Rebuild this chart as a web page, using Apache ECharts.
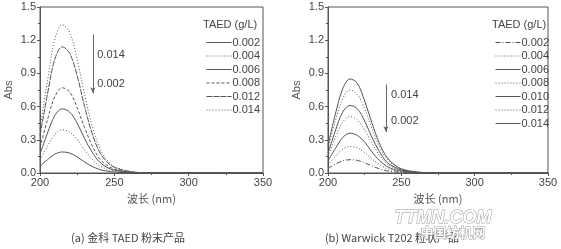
<!DOCTYPE html>
<html><head><meta charset="utf-8">
<script src="https://cdn.jsdelivr.net/npm/echarts@6/dist/echarts.min.js"></script>
<style>html,body{margin:0;padding:0;background:#fff}#c{width:561px;height:249px}</style>
</head><body><div id="c"></div>
<script>
// wavelength sample points (nm)
const wavelength = [200, 205, 210, 215, 220, 225, 230, 235, 240, 245, 250, 260, 270, 350];
// x/y tick values
const xTicks = [200, 250, 300, 350];
const yTicks = [0.0, 0.3, 0.6, 0.9, 1.2, 1.5];

// (a) 金科 TAED 粉末产品
const namesA = ['0.002', '0.004', '0.006', '0.008', '0.012', '0.014'];
const a002 = [0.06, 0.12, 0.17, 0.19, 0.18, 0.146, 0.10, 0.06, 0.032, 0.017, 0.009, 0.002, 0.001, 0];
const a004 = [0.12, 0.24, 0.35, 0.39, 0.37, 0.30, 0.21, 0.125, 0.066, 0.035, 0.018, 0.005, 0.001, 0];
const a006 = [0.17, 0.36, 0.52, 0.58, 0.55, 0.45, 0.31, 0.19, 0.10, 0.052, 0.026, 0.007, 0.002, 0];
const a008 = [0.23, 0.48, 0.69, 0.77, 0.73, 0.59, 0.41, 0.25, 0.13, 0.07, 0.035, 0.009, 0.002, 0];
const a012 = [0.34, 0.71, 1.03, 1.14, 1.08, 0.88, 0.60, 0.36, 0.19, 0.10, 0.05, 0.014, 0.003, 0];
const a014 = [0.40, 0.83, 1.21, 1.34, 1.27, 1.03, 0.71, 0.43, 0.23, 0.12, 0.06, 0.016, 0.004, 0];
const valuesA = [a002, a004, a006, a008, a012, a014];

// (b) Warwick T202 粒状产品
const namesB = ['0.002', '0.004', '0.006', '0.008', '0.010', '0.012', '0.014'];
const b002 = [0.04, 0.08, 0.11, 0.12, 0.114, 0.092, 0.064, 0.038, 0.02, 0.011, 0.005, 0.001, 0, 0];
const b004 = [0.07, 0.15, 0.216, 0.24, 0.228, 0.185, 0.127, 0.077, 0.041, 0.022, 0.011, 0.003, 0.001, 0];
const b006 = [0.11, 0.22, 0.32, 0.36, 0.34, 0.28, 0.19, 0.115, 0.061, 0.032, 0.016, 0.004, 0.001, 0];
const b008 = [0.15, 0.32, 0.46, 0.51, 0.48, 0.39, 0.27, 0.16, 0.087, 0.046, 0.023, 0.006, 0.002, 0];
const b010 = [0.18, 0.38, 0.55, 0.61, 0.58, 0.47, 0.32, 0.195, 0.10, 0.055, 0.027, 0.007, 0.002, 0];
const b012 = [0.22, 0.47, 0.67, 0.75, 0.71, 0.58, 0.40, 0.24, 0.13, 0.068, 0.034, 0.009, 0.002, 0];
const b014 = [0.25, 0.53, 0.76, 0.85, 0.81, 0.65, 0.45, 0.27, 0.145, 0.077, 0.038, 0.01, 0.003, 0];
const valuesB = [b002, b004, b006, b008, b010, b012, b014];

// arrow annotations (data coords)
const arrowA = { x: 235.6, from: 1.25, to: 0.72, hi: 1.07, lo: 0.80, labelX: 238.5 };
const arrowB = { x: 239.5, from: 0.80, to: 0.37, hi: 0.705, lo: 0.47, labelX: 243 };

const stylesA = ['solid', [1, 2], 'solid', [3, 2], [6, 1], [1, 2]];
const stylesB = [[5, 2, 1, 2], [1, 2], 'solid', [1, 2], 'solid', [1, 2], 'solid'];
const INK = '#555';
const FONT = 'Liberation Sans, Arial, sans-serif';

function axesFor(idx) {
  return {
    x: { type: 'value', gridIndex: idx, min: 200, max: 350, interval: 50,
      axisLine: { onZero: false, lineStyle: { color: INK } },
      axisTick: { show: true, length: 3, lineStyle: { color: INK } },
      minorTick: { show: true, splitNumber: 2, length: 2, lineStyle: { color: INK } },
      axisLabel: { color: '#444', fontSize: 11, fontFamily: FONT, margin: 4 },
      splitLine: { show: false },
      name: '波长 (nm)', nameLocation: 'middle', nameGap: 20,
      nameTextStyle: { color: '#555', fontSize: 11, fontFamily: 'Noto Sans CJK SC' } },
    y: { type: 'value', gridIndex: idx, min: 0, max: 1.5, interval: 0.3,
      axisLine: { lineStyle: { color: INK } },
      axisTick: { show: true, length: 3, lineStyle: { color: INK } },
      minorTick: { show: true, splitNumber: 2, length: 2, lineStyle: { color: INK } },
      axisLabel: { color: '#444', fontSize: 11, fontFamily: FONT, margin: 4,
        formatter: v => v.toFixed(1) },
      splitLine: { show: false },
      name: 'Abs', nameLocation: 'middle', nameGap: 26, nameRotate: 90,
      nameTextStyle: { color: '#555', fontSize: 11, fontFamily: FONT } }
  };
}
const ax0 = axesFor(0), ax1 = axesFor(1);

function makeSeries(prefix, names, values, styles, idx, arrow) {
  return names.map((n, i) => {
    const s = {
      type: 'line', name: prefix + n, xAxisIndex: idx, yAxisIndex: idx,
      data: wavelength.map((w, k) => [w, values[i][k]]),
      smooth: 0.35, symbol: 'none', silent: true,
      lineStyle: { color: INK, width: 1, type: styles[i] },
      itemStyle: { color: INK }
    };
    if (i === 0) {
      s.markLine = { silent: true, symbol: ['none', 'arrow'], symbolSize: [4, 6],
        lineStyle: { color: '#666', width: 1, type: 'solid' }, label: { show: false },
        data: [[{ coord: [arrow.x, arrow.from] }, { coord: [arrow.x, arrow.to] }]] };
      s.markPoint = { silent: true, symbol: 'circle', symbolSize: 0,
        label: { show: true, position: 'right', distance: 0, color: '#444', fontSize: 11,
          fontFamily: FONT, formatter: p => p.name },
        data: [{ name: '0.014', coord: [arrow.labelX, arrow.hi] },
               { name: '0.002', coord: [arrow.labelX, arrow.lo] }] };
    }
    return s;
  });
}

const legendCommon = { orient: 'vertical', itemWidth: 25, itemHeight: 10, itemGap: 2.5,
  selectedMode: false,
  lineStyle: { width: 1 },
  itemStyle: { opacity: 0 },
  textStyle: { color: '#444', fontSize: 11, fontFamily: FONT, padding: [0, 0, 0, -4] },
  formatter: n => n.slice(1) };

const chart = echarts.init(document.getElementById('c'), null, { renderer: 'canvas' });
chart.setOption({
  animation: false,
  backgroundColor: '#fff',
  grid: [
    { left: 40, top: 7, width: 223, height: 166, show: true, borderColor: INK, borderWidth: 1 },
    { left: 328, top: 7, width: 220, height: 166, show: true, borderColor: INK, borderWidth: 1 }
  ],
  xAxis: [ax0.x, ax1.x],
  yAxis: [ax0.y, ax1.y],
  legend: [
    Object.assign({}, legendCommon, { left: 201, top: 32, data: namesA.map(n => 'a' + n) }),
    Object.assign({}, legendCommon, { left: 490, top: 32, data: namesB.map(n => 'b' + n) })
  ],
  graphic: [
    { type: 'text', left: 203, top: 19, style: { text: 'TAED (g/L)', fill: '#444', font: '11px ' + FONT } },
    { type: 'text', left: 492, top: 19, style: { text: 'TAED (g/L)', fill: '#444', font: '11px ' + FONT } },
    { type: 'text', x: 128, y: 238, style: { text: '(a) 金科 TAED 粉末产品', fill: '#444',
      font: '11px "Noto Sans CJK SC"', align: 'center', verticalAlign: 'middle' } },
    { type: 'text', x: 392, y: 238, style: { text: '(b) Warwick T202 粒状产品', fill: '#444',
      font: '11px "Noto Sans CJK SC"', align: 'center', verticalAlign: 'middle' } },
    { type: 'text', x: 443, y: 218, style: { text: 'TTMN.COM', fill: '#fff', stroke: '#999', lineWidth: 1,
      font: 'italic bold 18px ' + FONT, align: 'center', verticalAlign: 'middle' } },
    { type: 'text', x: 453, y: 232, style: { text: '中国纺机网', fill: '#fff', stroke: '#999', lineWidth: 1,
      font: 'bold 13px "Noto Sans CJK SC"', align: 'center', verticalAlign: 'middle' } }
  ],
  series: [].concat(
    makeSeries('a', namesA, valuesA, stylesA, 0, arrowA),
    makeSeries('b', namesB, valuesB, stylesB, 1, arrowB)
  )
});
</script></body></html>
